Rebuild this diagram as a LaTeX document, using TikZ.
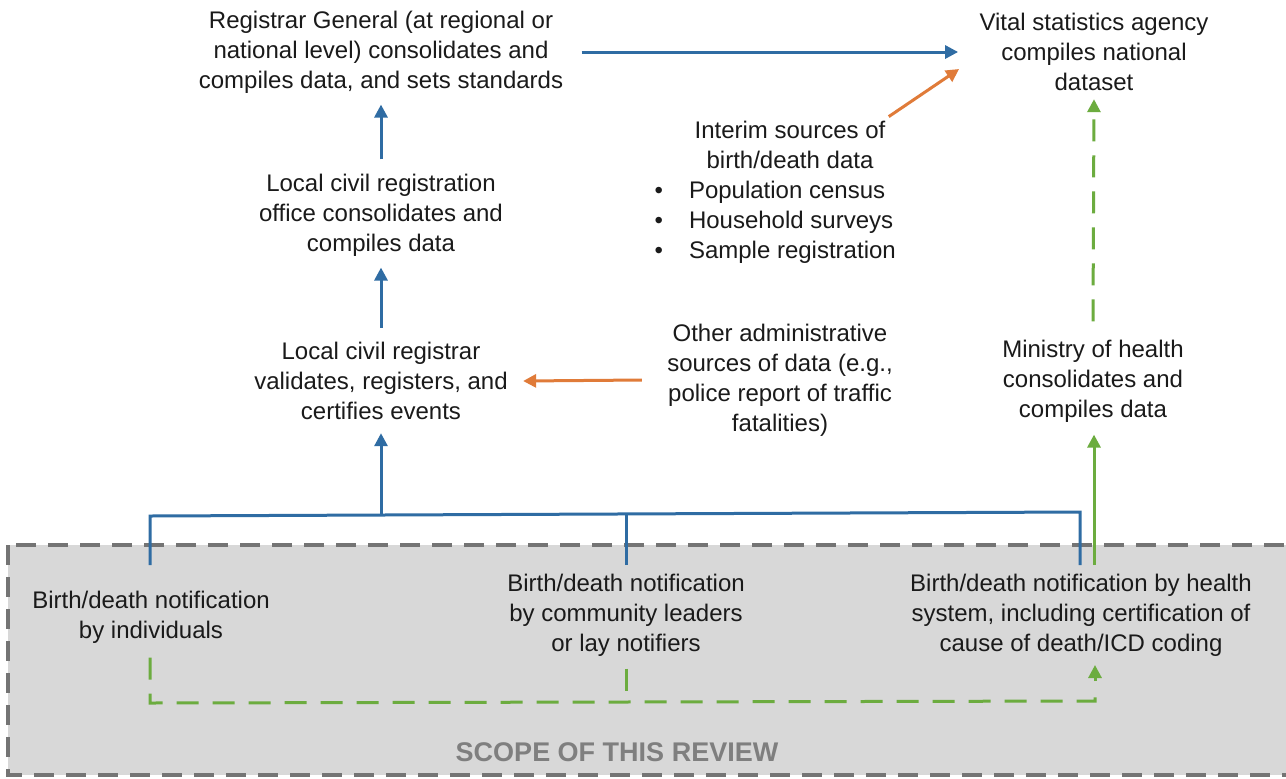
\documentclass[tikz,border=0pt]{standalone}
\usepackage{fontspec}
\setmainfont{Liberation Sans}
\usetikzlibrary{arrows.meta,calc}
\definecolor{cblue}{HTML}{2F6CA3}
\definecolor{corange}{HTML}{E07B39}
\definecolor{cgreen}{HTML}{6CAC3F}
\definecolor{cgrayfill}{HTML}{D8D8D8}
\definecolor{cgrayline}{HTML}{747474}
\definecolor{ctext}{HTML}{1A1A1A}
\definecolor{cscope}{HTML}{7F7F7F}
\begin{document}
\begin{tikzpicture}[x=0.5pt,y=-0.5pt,
  txt/.style={align=center,text=ctext,font=\fontsize{12}{15}\selectfont,inner sep=0pt},
  tip/.style={-{Triangle[length=6.5pt,width=6.5pt]}},
  barrow/.style={draw=cblue,line width=1.5pt,tip},
  bline/.style={draw=cblue,line width=1.5pt},
  oarrow/.style={draw=corange,line width=1.5pt,tip},
  garrow/.style={draw=cgreen,line width=1.5pt,tip},
  gdash/.style={draw=cgreen,line width=1.5pt,dash pattern=on 11pt off 7pt},
  scopebox/.style={fill=cgrayfill,draw=cgrayline,line width=2pt,dash pattern=on 10pt off 6pt}
]
\useasboundingbox (0,0) rectangle (1286,778);
\fill[white] (0,0) rectangle (1286,778);
% scope box
\path[scopebox] (8,545) rectangle (1296,775);
\node[font=\bfseries\fontsize{13.5}{15}\selectfont,text=cscope,inner sep=0pt] (scope) at (617,752) {SCOPE OF THIS REVIEW};

% top nodes
\node[txt] (A) at (381,52) {Registrar General (at regional or\\national level) consolidates and\\compiles data, and sets standards};
\node[txt] (V) at (1094,52) {Vital statistics agency\\compiles national\\dataset};
\node[txt] (L1) at (381,215) {Local civil registration\\office consolidates and\\compiles data};
\node[txt] (L2) at (381,381) {Local civil registrar\\validates, registers, and\\certifies events};
\node[txt] (O) at (780,380) {Other administrative\\sources of data (e.g.,\\police report of traffic\\fatalities)};
\node[txt] (M) at (1093,381) {Ministry of health\\consolidates and\\compiles data};
\node[txt,align=left] (I) at (776,192) {\begin{tabular}{@{}l@{\hspace{13pt}}l@{}}
\multicolumn{2}{c}{\hspace{14pt}Interim sources of}\\
\multicolumn{2}{c}{\hspace{14pt}birth/death data}\\
\textbullet & Population census\\
\textbullet & Household surveys\\
\textbullet & Sample registration
\end{tabular}};

% bottom nodes
\node[txt] (N1) at (151,617) {Birth/death notification\\by individuals};
\node[txt] (N2) at (626,615) {Birth/death notification\\by community leaders\\or lay notifiers};
\node[txt] (N3) at (1081,615) {Birth/death notification by health\\system, including certification of\\cause of death/ICD coding};

% connectors
\draw[barrow] ($(A.east)+(18,0)$) -- ($(V.west)+(-21,0)$);
\draw[oarrow] ($(I.north east)+(-9,0)$) -- ($(V.west)+(-20,17)$);
\draw[barrow] ($(L1.north)+(0,-14)$) -- ($(A.south)+(0,11)$);
\draw[barrow] ($(L2.north)+(0,-14)$) -- ($(L1.south)+(0,11)$);
\draw[oarrow] ($(O.west)+(-25,0)$) -- ($(L2.east)+(15,0)$);
\draw[gdash,tip] ($(M.north)+(0,-18)$) -- ($(V.south)+(0,8)$);

% tree
\coordinate (t1) at (150,565);
\coordinate (t2) at (626,565);
\coordinate (t3) at (1080,565);
\coordinate (h1) at (150,516);
\coordinate (h2) at (626,514);
\coordinate (h3) at (1080,512);
\coordinate (hm) at (381,515);
\draw[bline] (t1) -- (h1) -- (h3) -- (t3);
\draw[bline] (t2) -- (h2);
\draw[barrow] (hm) -- ($(L2.south)+(0,13)$);
\coordinate (g1) at (1094,565);
\draw[garrow] (g1) -- ($(M.south)+(1,12)$);

% green dashed
\coordinate (d1) at (150,703);
\coordinate (d2) at (626,701);
\coordinate (d3) at (1095,701);
\coordinate (d4) at (1095,681);
\coordinate (d5) at (1095,665);
\draw[gdash] ($(N1.south)+(-1,14)$) -- (d1) -- (d3) -- ($(d3)+(0,-17)$);
\draw[gdash] ($(N2.south)+(0,12)$) -- (d2);
\draw[garrow] (d4) -- (d5);
\end{tikzpicture}
\end{document}
